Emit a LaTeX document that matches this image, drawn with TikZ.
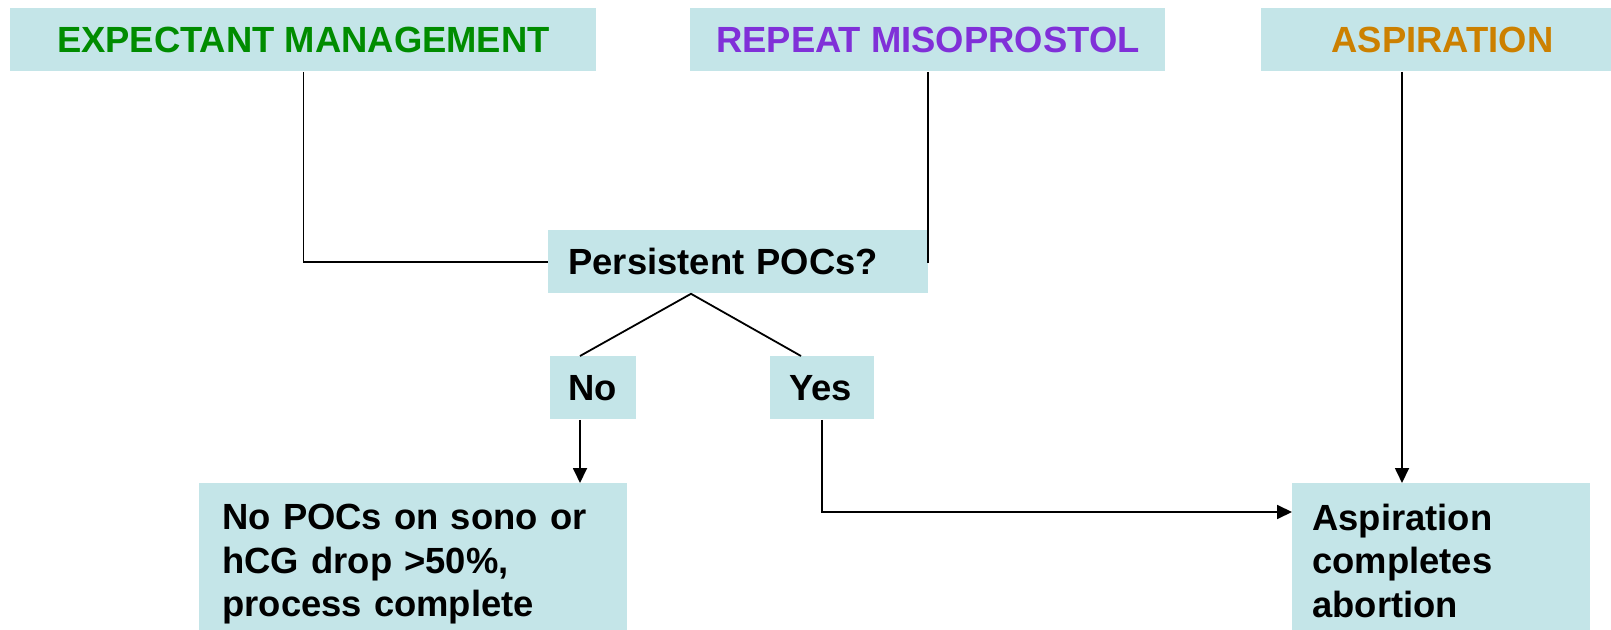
\documentclass[tikz,border=0pt]{standalone}
\usepackage{fontspec}
\setmainfont{Liberation Sans}
\usetikzlibrary{arrows.meta}
\definecolor{boxc}{RGB}{196,229,232}
\definecolor{tgreen}{RGB}{0,140,0}
\definecolor{tpurple}{RGB}{128,48,216}
\definecolor{torange}{RGB}{204,128,0}
\begin{document}
\begin{tikzpicture}[x=0.5pt,y=-0.5pt,
  box/.style={fill=boxc, inner sep=0pt, anchor=north west,
    font=\bfseries\fontsize{18.2}{21.6}\selectfont},
  topbox/.style={box, minimum height=31.5pt},
  leftbox/.style={box, align=left},
  conn/.style={line width=0.9pt, black},
  arr/.style={conn, -{Triangle[length=7.5pt,width=7pt]}}]
\useasboundingbox (0,0) rectangle (1611,630);

\node[topbox, minimum width=293pt, text=tgreen] (exp) at (10,8) {EXPECTANT MANAGEMENT};
\node[topbox, minimum width=237.5pt, text=tpurple] (rep) at (690,8) {REPEAT MISOPROSTOL};
\node[topbox, minimum width=181pt, text=torange] (asp) at (1261,8) {ASPIRATION};

\node[leftbox, minimum height=31.5pt, text width=170pt, inner xsep=10pt] (pers) at (548,230) {Persistent POCs?};
\node[leftbox, minimum height=31.5pt, text width=25pt, inner xsep=9pt] (no) at (550,356) {No};
\node[leftbox, minimum height=31.5pt, text width=33pt, inner xsep=9.5pt] (yes) at (770,356) {Yes};

\node[leftbox, text width=191pt, inner xsep=11.5pt, inner ysep=10.5pt] (nopoc) at (199,483)
  {No POCs on sono or\\hCG drop >50\%,\\process complete};
\node[leftbox, text width=129pt, inner xsep=10pt, inner ysep=10.5pt] (aspc) at (1292,483)
  {Aspiration\\completes\\abortion};

\draw[conn] (exp.south) |- (pers.west);
\draw[conn] (rep.south) |- (pers.east);

\coordinate (apex) at ([xshift=71.5pt]pers.south west);
\coordinate (notop) at ([xshift=15pt]no.north west);
\coordinate (yestop) at ([xshift=15.5pt]yes.north west);
\draw[conn] (notop) -- (apex) -- (yestop);

\coordinate (nob) at ([xshift=15pt]no.south west);
\draw[arr] (nob) -- (nob |- nopoc.north);

\coordinate (yb) at ([xshift=26pt]yes.south west);
\coordinate (aspin) at ([yshift=-14.5pt]aspc.north west);
\draw[arr] (yb) |- (aspin);

\coordinate (ab) at ([xshift=70.5pt]asp.south west);
\draw[arr] (ab) -- (ab |- aspc.north);
\end{tikzpicture}
\end{document}
